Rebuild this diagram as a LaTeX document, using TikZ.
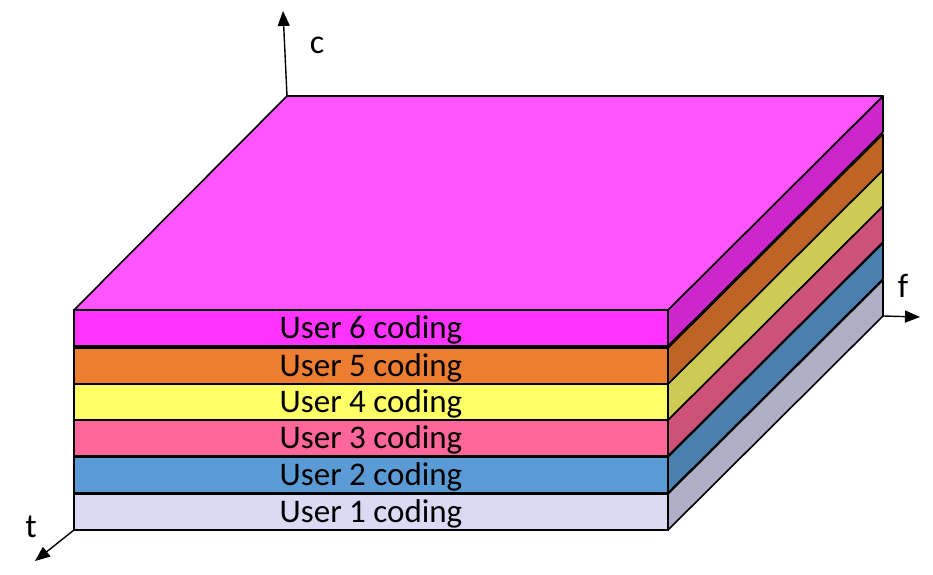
\documentclass[tikz,border=0pt]{standalone}
\usepackage{fontspec}
\setmainfont{Carlito}
\definecolor{topface}{HTML}{FF55FF}
\definecolor{user6front}{HTML}{FF33FF}
\definecolor{user6side}{HTML}{CC26CC}
\definecolor{user5front}{HTML}{ED7D31}
\definecolor{user5side}{HTML}{BE6425}
\definecolor{user4front}{HTML}{FFFF66}
\definecolor{user4side}{HTML}{CCCC55}
\definecolor{user3front}{HTML}{FF6699}
\definecolor{user3side}{HTML}{CC527A}
\definecolor{user2front}{HTML}{5B9BD5}
\definecolor{user2side}{HTML}{4A7FAE}
\definecolor{user1front}{HTML}{DADAF4}
\definecolor{user1side}{HTML}{AFB0C5}
\usetikzlibrary{arrows.meta,calc}

\begin{document}
\begin{tikzpicture}[x=1pt,y=1pt,
  layer/.style={draw,line width=1.6pt,minimum width=594pt,minimum height=36pt,
    inner sep=0pt,outer sep=0pt,text height=26pt,text depth=6pt,
    font=\fontsize{33}{36}\selectfont},
  side/.style={draw,line width=1.6pt,line join=round},
  axis/.style={line width=1.4pt,-{Triangle[length=15pt,width=12pt]}},
  axislabel/.style={font=\fontsize{34}{36}\selectfont}]
\useasboundingbox (0,0) rectangle (933,574);
% front faces
\node[layer,fill=user1front] (u1) at (371,62) {User 1 coding};
\node[layer,fill=user2front] (u2) at (371,99) {User 2 coding};
\node[layer,fill=user3front] (u3) at (371,136) {User 3 coding};
\node[layer,fill=user4front] (u4) at (371,172) {User 4 coding};
\node[layer,fill=user5front] (u5) at (371,208) {User 5 coding};
\node[layer,fill=user6front] (u6) at (371,246) {User 6 coding};
% side faces
\filldraw[side,fill=user1side] (u1.south east) -- ++(215,214) coordinate (fo) -- ++(0,36) -- (u1.north east) -- cycle;
\filldraw[side,fill=user2side] (u2.south east) -- ++(215,214) -- ++(0,36) -- (u2.north east) -- cycle;
\filldraw[side,fill=user3side] (u3.south east) -- ++(215,214) -- ++(0,36) -- (u3.north east) -- cycle;
\filldraw[side,fill=user4side] (u4.south east) -- ++(215,214) -- ++(0,36) -- (u4.north east) -- cycle;
\filldraw[side,fill=user5side] (u5.south east) -- ++(215,214) -- ++(0,36) -- (u5.north east) -- cycle;
\filldraw[side,fill=user6side] (u6.south east) -- ++(215,214) -- ++(0,36) -- (u6.north east) -- cycle;
% top face
\filldraw[side,fill=topface] (u6.north west) -- (u6.north east) -- ++(215,214) -- ++(-596,0) coordinate (bl) -- cycle;
% axes
\coordinate (ctip) at (283,563);
\coordinate (ftip) at (920,257);
\coordinate (ttip) at (35,13);
\draw[axis] (bl) -- (ctip);
\draw[axis] (fo) -- (ftip);
\draw[axis] (u1.south west) -- (ttip);
\node[axislabel] (clabel) at (317,529) {c};
\node[axislabel] (flabel) at (903,288) {f};
\node[axislabel] (tlabel) at (31,47) {t};
\end{tikzpicture}
\end{document}
